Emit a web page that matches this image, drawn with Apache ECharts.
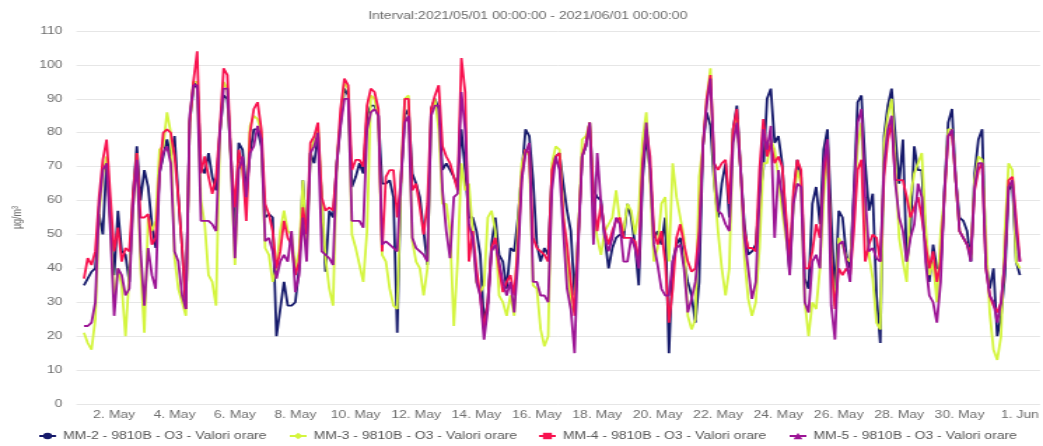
<!DOCTYPE html>
<html><head><meta charset="utf-8">
<script src="https://cdn.jsdelivr.net/npm/echarts@6/dist/echarts.min.js"></script>
<style>
html,body{margin:0;padding:0;background:#fff;overflow:hidden;width:1043px;height:446px}
#wrap{width:1043px;height:446px;overflow:hidden;position:relative}
#chart{width:745px;height:446px;transform:scaleX(1.4);transform-origin:0 0;position:absolute;left:0;top:0}
</style></head><body><div id="wrap"><div id="chart"></div></div>
<script>
const titleText = 'Interval:2021/05/01 00:00:00 - 2021/06/01 00:00:00';
const seriesNames = ['MM-2 - 9810B - O3 - Valori orare','MM-3 - 9810B - O3 - Valori orare','MM-4 - 9810B - O3 - Valori orare','MM-5 - 9810B - O3 - Valori orare'];
const stepHours = 3; // one reading every 3 hours from 2021-05-01 00:00
const mm2 = [
35,37,39,40,56,50,72,55, 38,57,45,44,36,62,76,60, 69,64,53,46,68,73,78,73, 79,61,46,28,83,93,95,70,
68,74,67,63,80,91,90,72, 49,77,75,63,74,81,81,76, 55,56,55,20,28,36,29,29, 30,40,66,48,74,71,79,61,
39,57,55,71,83,93,91,64, 67,71,68,85,88,88,85,65, 65,66,61,21,66,85,87,68, 65,61,51,41,87,90,87,69,
71,69,67,64,81,69,55,55, 51,44,24,30,47,55,44,42, 34,46,45,55,68,81,79,66, 47,42,46,44,68,73,74,65,
57,51,32,50,73,76,83,63, 61,60,49,40,46,49,50,49, 59,55,47,35,66,79,69,49, 51,47,55,15,42,47,49,42,
36,32,24,36,76,86,82,65, 55,65,71,55,81,88,69,53, 44,45,47,61,69,90,93,77, 79,71,53,39,61,72,67,37,
34,59,64,53,75,81,55,32, 57,55,44,40,63,89,91,71, 57,62,32,18,79,88,93,79, 65,78,42,51,76,69,69,49,
36,47,40,40,63,83,87,66, 55,54,51,42,68,78,81,42, 34,40,20,26,38,63,65,42, 38];
const mm3 = [
21,18,16,25,56,68,73,53, 30,40,35,20,38,58,74,40, 21,55,51,54,75,76,86,80, 43,34,30,26,83,95,95,60,
53,38,36,29,80,95,93,70, 41,71,69,58,82,85,84,80, 46,44,36,40,51,57,51,50, 40,45,66,45,74,78,82,61,
43,34,29,71,84,95,93,50, 46,41,36,51,91,90,84,44, 42,34,29,28,66,90,91,48, 42,40,32,40,86,90,81,59,
59,51,23,42,71,63,65,51, 36,33,35,55,57,51,32,30, 26,32,26,53,71,75,73,35, 34,22,17,20,71,76,75,56,
42,29,27,50,78,79,83,57, 49,44,51,53,55,63,54,51, 59,57,50,57,78,86,66,42, 46,59,61,42,71,61,55,49,
26,22,25,67,76,90,99,65, 51,40,32,40,81,84,69,43, 31,26,30,46,71,71,78,75, 67,57,49,42,59,69,65,30,
20,30,28,40,61,75,40,29, 49,47,43,42,57,76,83,55, 44,37,24,22,77,85,90,71, 49,42,36,61,68,71,74,53,
38,42,30,51,61,81,81,66, 51,49,47,43,66,73,72,49, 27,16,13,20,51,71,69,42, 40];
const mm4 = [
37,43,41,45,61,72,78,61, 45,52,42,46,45,62,74,55, 55,56,47,49,68,80,81,80, 73,61,46,28,83,95,104,68,
73,67,62,67,81,99,97,72, 58,75,70,54,80,87,89,81, 59,56,51,40,45,54,49,47, 38,42,58,50,77,79,83,61,
57,58,57,71,87,96,94,69, 72,72,70,88,93,92,87,45, 67,69,69,55,66,90,90,63, 65,58,50,59,87,91,94,76,
73,71,67,63,102,92,42,51, 40,32,22,30,46,49,40,33, 36,38,32,47,67,75,74,49, 46,45,44,42,69,73,74,55,
47,36,26,50,73,77,83,61, 51,59,51,47,51,54,55,49, 49,49,48,42,71,81,73,51, 47,51,42,24,34,49,53,47,
42,39,40,51,76,90,97,71, 69,71,72,59,81,87,69,51, 46,46,45,69,84,73,77,71, 73,70,56,43,63,72,69,40,
40,45,53,49,67,78,42,28, 40,38,40,38,51,69,72,42, 47,50,49,42,67,78,83,66, 66,66,61,55,58,61,55,47,
40,45,36,42,61,79,80,66, 51,49,47,44,63,69,71,40, 32,29,27,30,42,66,67,55, 42];
const mm5 = [
23,23,24,30,58,69,71,51, 26,40,38,32,34,58,72,45, 29,46,38,34,68,74,76,71, 45,42,32,28,85,94,94,54,
54,54,53,51,80,93,93,70, 43,69,73,61,74,76,82,78, 48,49,45,37,42,44,42,51, 33,38,55,42,74,76,80,45,
44,43,41,71,82,90,90,54, 54,54,52,81,86,87,85,47, 48,47,46,45,66,83,85,49, 46,45,44,42,85,88,88,63,
51,43,61,62,92,81,53,49, 36,32,19,28,45,47,42,36, 32,36,27,42,66,74,77,36, 36,32,32,30,63,73,69,51,
34,28,15,48,73,76,83,47, 74,59,49,45,49,55,53,42, 42,49,46,40,68,83,69,47, 41,34,32,32,42,46,47,40,
27,31,36,46,76,88,96,71, 57,56,53,51,77,83,69,49, 40,31,36,61,81,75,82,49, 69,61,51,38,59,65,64,30,
27,42,44,40,71,78,29,19, 47,48,42,36,61,83,87,61, 45,46,43,42,71,81,85,65, 55,51,42,49,53,65,61,42,
32,30,24,36,63,79,81,66, 51,49,47,42,64,71,71,40, 32,30,24,30,42,64,66,51, 42];
const tickHours = [24,72,120,168,216,264,312,360,408,456,504,552,600,648,696,744];
const tickLabels = ['2. May','4. May','6. May','8. May','10. May','12. May','14. May','16. May','18. May','20. May','22. May','24. May','26. May','28. May','30. May','1. Jun'];
const yTicks = [0,10,20,30,40,50,60,70,80,90,100,110];

const colors = ['#161a6b','#d4f53e','#f8124f','#9c1495'];
const symbols = ['circle','diamond','rect','triangle'];
const allData = [mm2, mm3, mm4, mm5];
const FONT = 'Liberation Sans, Arial, sans-serif';

const chart = echarts.init(document.getElementById('chart'), null, {renderer:'canvas'});
const legendLefts = [27, 206, 384, 563];
chart.setOption({
  animation: false,
  title: {text: titleText, left: 263, top: 11, padding: 0,
    textStyle: {fontSize: 10, color: '#6a6a6a', fontWeight: 'normal', fontFamily: FONT}},
  legend: seriesNames.map((n, i) => ({
    data: [n], left: legendLefts[i], top: 431, padding: 0,
    itemWidth: 12, itemHeight: 8, selectedMode: false,
    textStyle: {fontSize: 10, color: '#555', fontFamily: FONT}
  })),
  grid: {left: 48.6, top: 31, width: 710.1, height: 373},
  xAxis: {
    type: 'value', min: -6, max: 760,
    axisLine: {show: false}, axisTick: {show: false}, splitLine: {show: false},
    axisLabel: {customValues: tickHours, margin: 6, fontSize: 10, color: '#6e6e6e', fontFamily: FONT,
      formatter: v => tickLabels[tickHours.indexOf(v)] || ''}
  },
  yAxis: {
    type: 'value', min: 0, max: 110, interval: 10,
    name: 'µg/m³', nameLocation: 'middle', nameGap: 35, nameRotate: 90,
    nameTextStyle: {fontSize: 9, color: '#6e6e6e', fontFamily: FONT},
    axisLine: {show: false}, axisTick: {show: false},
    axisLabel: {margin: 10, fontSize: 10, color: '#6e6e6e', fontFamily: FONT},
    splitLine: {lineStyle: {color: '#e6e6e6', width: 1}}
  },
  series: allData.map((arr, i) => ({
    type: 'line', name: seriesNames[i],
    data: arr.map((v, k) => [k * stepHours, v]),
    showSymbol: false, symbol: symbols[i], symbolSize: 6,
    lineStyle: {width: 1.8, color: colors[i]},
    itemStyle: {color: colors[i]},
    emphasis: {disabled: true}, z: 2 + i
  }))
});
</script></body></html>
